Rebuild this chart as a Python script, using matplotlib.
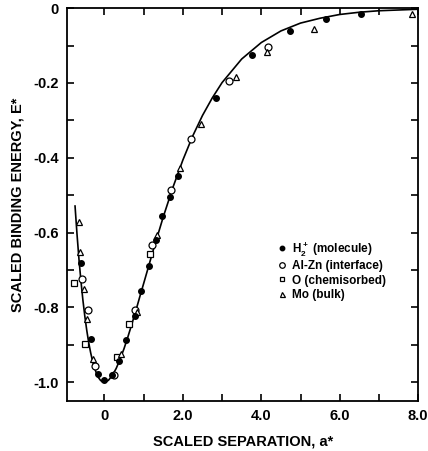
import numpy as np
import matplotlib
matplotlib.use("Agg")
import matplotlib.pyplot as plt
from matplotlib.ticker import MultipleLocator

plt.rcParams['font.family'] = ['Liberation Sans', 'DejaVu Sans']
plt.rcParams['font.weight'] = 'bold'
plt.rcParams['mathtext.fontset'] = 'custom'
plt.rcParams['mathtext.bf'] = 'Liberation Sans:bold'
plt.rcParams['mathtext.rm'] = 'Liberation Sans:bold'
plt.rcParams['mathtext.default'] = 'bf'

# fitted universal curve
curve_x = [-0.75, -0.7, -0.65, -0.6, -0.55, -0.5, -0.45, -0.4, -0.35, -0.3, -0.25, -0.2,
           -0.15, -0.1, -0.05, 0.0, 0.1, 0.2, 0.3, 0.4, 0.5, 0.6, 0.7, 0.8, 0.9, 1.0,
           1.25, 1.5, 1.75, 2.0, 2.25, 2.5, 2.75, 3.0, 3.5, 4.0, 4.5, 5.0, 5.5, 6.0,
           6.5, 7.0, 7.5, 8.0]
curve_y = [-0.529, -0.604, -0.671, -0.729, -0.780, -0.824, -0.862, -0.895, -0.922, -0.945,
           -0.963, -0.977, -0.988, -0.995, -0.999, -1.0, -0.995, -0.982, -0.963, -0.938,
           -0.910, -0.878, -0.844, -0.809, -0.772, -0.736, -0.645, -0.558, -0.478, -0.406,
           -0.342, -0.287, -0.240, -0.199, -0.136, -0.092, -0.061, -0.040, -0.027, -0.017,
           -0.011, -0.007, -0.005, -0.003]

# H2+ (molecule)
h2_x = [-0.59, -0.35, -0.17, 0.0, 0.18, 0.36, 0.56, 0.78, 0.92, 1.13, 1.32, 1.46, 1.67,
        1.87, 2.84, 3.76, 4.74, 5.64, 6.54]
h2_y = [-0.68, -0.885, -0.978, -0.995, -0.98, -0.944, -0.886, -0.824, -0.757, -0.69,
        -0.621, -0.556, -0.505, -0.448, -0.239, -0.124, -0.060, -0.030, -0.015]

# Al-Zn (interface)
alzn_x = [-0.56, -0.41, -0.24, 0.25, 0.77, 1.22, 1.69, 2.21, 3.18, 4.16]
alzn_y = [-0.723, -0.808, -0.957, -0.98, -0.806, -0.632, -0.485, -0.350, -0.195, -0.103]

# O (chemisorbed)
o_x = [-0.77, -0.50, 0.33, 0.62, 1.17]
o_y = [-0.736, -0.898, -0.932, -0.845, -0.658]

# Mo (bulk)
mo_x = [-0.65, -0.62, -0.51, -0.45, -0.29, 0.41, 0.82, 1.35, 1.92, 2.47, 3.35, 4.15,
        5.34, 7.85]
mo_y = [-0.571, -0.653, -0.75, -0.83, -0.939, -0.925, -0.812, -0.607, -0.428, -0.309,
        -0.184, -0.118, -0.057, -0.017]

fig = plt.figure(figsize=(4.28, 4.51), dpi=100)
ax = fig.add_axes([0.157, 0.111, 0.82, 0.871])

ax.plot(curve_x, curve_y, color='black', lw=1.2, zorder=1)
ax.plot(h2_x, h2_y, 'o', color='black', ms=4, ls='none', label=r'$H_2^+$ (molecule)', zorder=3)
ax.plot(alzn_x, alzn_y, 'o', mfc='white', mec='black', mew=0.9, ms=5, ls='none',
        label='Al-Zn (interface)', zorder=2)
ax.plot(o_x, o_y, 's', mfc='white', mec='black', mew=0.9, ms=4, ls='none',
        label='O (chemisorbed)', zorder=2)
ax.plot(mo_x, mo_y, '^', mfc='white', mec='black', mew=0.9, ms=4.5, ls='none',
        label='Mo (bulk)', zorder=2)

ax.set_xlim(-0.95, 8.0)
ax.set_ylim(-1.05, 0.0)

ax.set_xticks([0, 2, 4, 6, 8])
ax.set_xticklabels(['0', '2.0', '4.0', '6.0', '8.0'])
ax.xaxis.set_minor_locator(MultipleLocator(1.0))
ax.set_yticks([0, -0.2, -0.4, -0.6, -0.8, -1.0])
ax.set_yticklabels(['0', '-0.2', '-0.4', '-0.6', '-0.8', '-1.0'])
ax.yaxis.set_minor_locator(MultipleLocator(0.1))

ax.tick_params(which='both', direction='in', top=True, right=True, length=5, width=1.2,
               labelsize=10.5, pad=6)
for s in ax.spines.values():
    s.set_linewidth(1.3)

ax.set_xlabel('SCALED SEPARATION, a*', fontsize=10.5, fontweight='bold', labelpad=8)
ax.set_ylabel('SCALED BINDING ENERGY, E*', fontsize=10.5, fontweight='bold', labelpad=6)

ax.legend(loc='upper left', bbox_to_anchor=(0.60, 0.41), frameon=False,
          prop={'size': 8.5, 'weight': 'bold'},
          handlelength=0.8, handletextpad=0.4, labelspacing=0.2, borderpad=0,
          borderaxespad=0, markerscale=0.8)

fig.savefig('out.png', dpi=100)
